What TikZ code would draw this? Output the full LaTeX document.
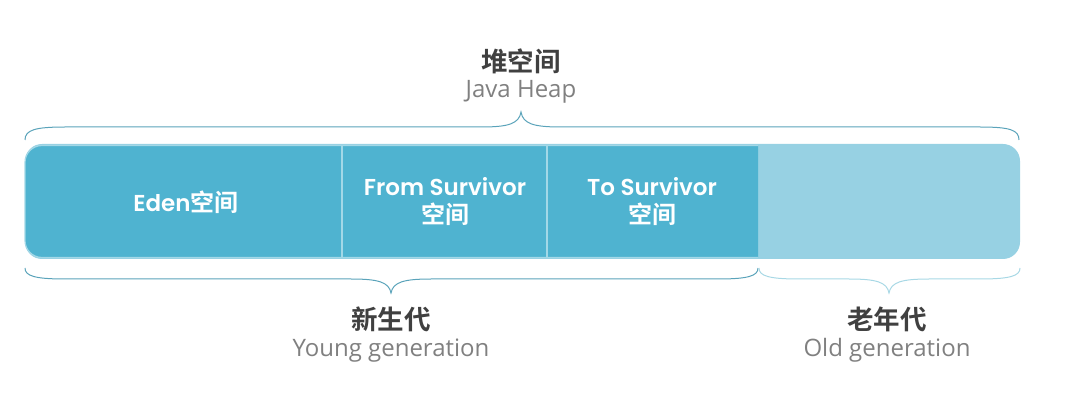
\documentclass[tikz,border=0pt]{standalone}
\usepackage{fontspec}
\setmainfont{Open Sans}
\newfontfamily\cjkb{Noto Sans CJK SC Bold}
\newfontfamily\inner{Poppins SemiBold}
\definecolor{young}{HTML}{4FB3D0}
\definecolor{oldc}{HTML}{97D1E3}
\definecolor{divc}{HTML}{A3D8E7}
\definecolor{bracec}{HTML}{5AA3BA}
\definecolor{bracel}{HTML}{A8D8E5}
\definecolor{titlec}{HTML}{404040}
\definecolor{subc}{HTML}{808080}
\tikzset{
  title/.style={font=\cjkb\fontsize{26.5}{28}\selectfont, text=titlec, anchor=base, inner sep=0pt},
  sub/.style={font=\fontsize{24}{26}\selectfont, text=subc, anchor=base, inner sep=0pt},
  label/.style={font=\inner\fontsize{23}{28}\selectfont, text=white, align=center, inner sep=0pt},
  brace/.style={draw=bracec, line width=1pt},
}
\newcommand\kj[1]{{\cjkb\fontsize{24}{28}\selectfont #1}}
\begin{document}
\begin{tikzpicture}[x=1pt,y=-1pt]
\useasboundingbox (0,0) rectangle (1066,403);
% bar
\fill[oldc, rounded corners=17pt] (25,144) rectangle (1020,259);
\begin{scope}
\clip (0,0) rectangle (758,403);
\path[fill=young, draw=divc, line width=1.2pt, rounded corners=17pt] (25,145.5) rectangle (800,257.5);
\end{scope}
\draw[divc, line width=1.2pt] (342,146) -- (342,257);
\draw[divc, line width=1.2pt] (547,146) -- (547,257);
% texts in bar
\node[label] (eden) at (186,202) {Eden\kj{空间}};
\node[label] (from) at (445,202) {From Survivor\\\kj{空间}};
\node[label] (to) at (652,202) {To Survivor\\\kj{空间}};
% top brace
\draw[brace] (25,140) .. controls (25,130) and (35,127) .. (65,127) -- (481,127) .. controls (508,127) and (519,124) .. (521,112) .. controls (523,124) and (534,127) .. (561,127) -- (980,127) .. controls (1010,127) and (1019,130) .. (1019,140);
% young brace
\draw[brace] (25,268) .. controls (25,276) and (35,279) .. (65,279) -- (351,279) .. controls (378,279) and (389,282) .. (391,293) .. controls (393,282) and (404,279) .. (431,279) -- (718,279) .. controls (748,279) and (758,276) .. (758,268);
% old brace
\draw[brace, draw=bracel] (759,268) .. controls (759,276) and (769,279) .. (799,279) -- (849,279) .. controls (876,279) and (887,282) .. (889,293) .. controls (891,282) and (902,279) .. (929,279) -- (980,279) .. controls (1010,279) and (1020,276) .. (1020,268);
% titles
\node[title] (heap) at (521,72) {堆空间};
\node[sub] (heapen) at (521,98) {Java Heap};
\node[title] (young) at (391,330) {新生代};
\node[sub] (youngen) at (391,356) {Young generation};
\node[title] (old) at (887,330) {老年代};
\node[sub] (olden) at (887,356) {Old generation};
\end{tikzpicture}
\end{document}
